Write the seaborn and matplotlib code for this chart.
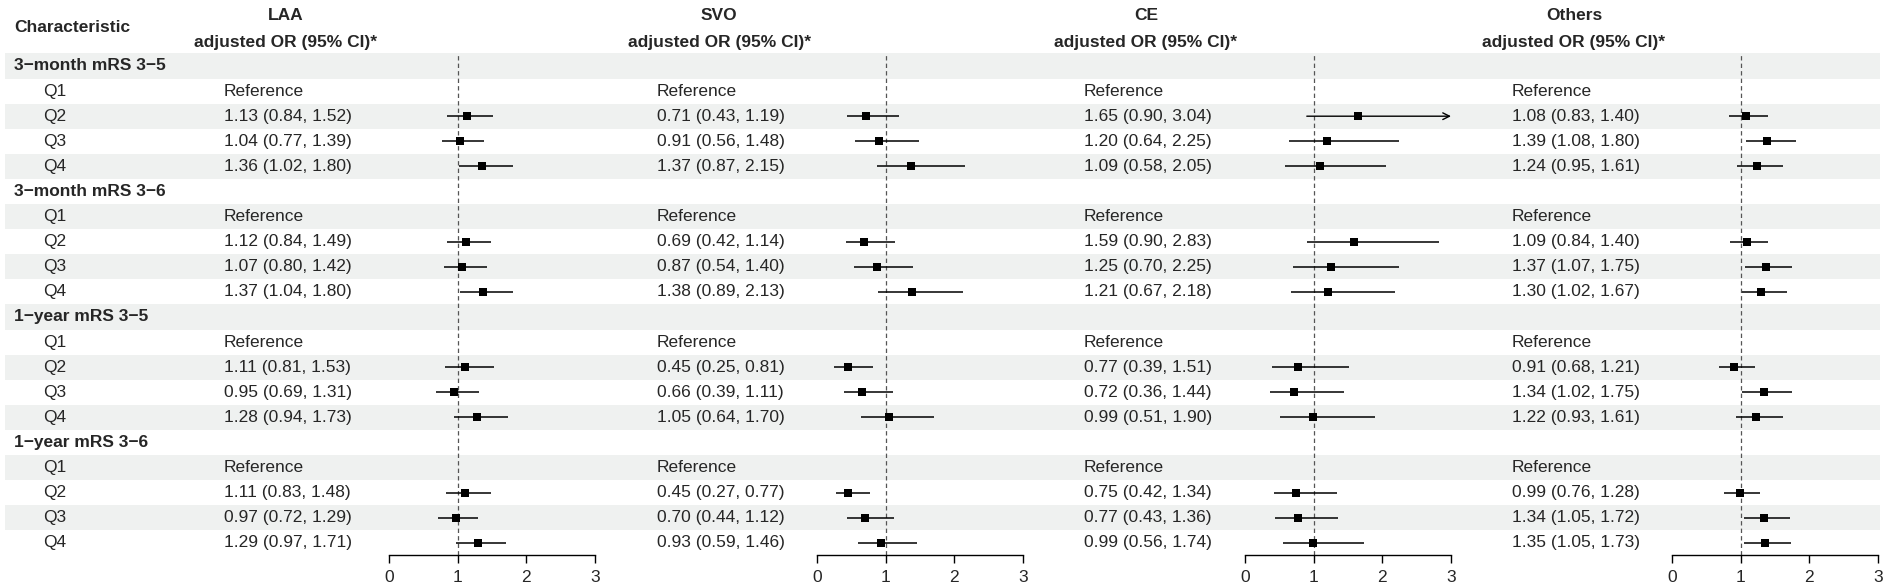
import numpy as np
import seaborn as sns
import matplotlib.pyplot as plt

sns.set_style("white")
plt.rcParams["font.family"] = ["Liberation Sans", "DejaVu Sans"]

groups = ["3\u2212month mRS 3\u22125", "3\u2212month mRS 3\u22126",
          "1\u2212year mRS 3\u22125", "1\u2212year mRS 3\u22126"]
quartiles = ["Q1", "Q2", "Q3", "Q4"]
subtypes = ["LAA", "SVO", "CE", "Others"]

# OR, lower, upper for Q2..Q4 of each group (Q1 = reference)
laa_or = [1.13, 1.04, 1.36, 1.12, 1.07, 1.37, 1.11, 0.95, 1.28, 1.11, 0.97, 1.29]
laa_lo = [0.84, 0.77, 1.02, 0.84, 0.80, 1.04, 0.81, 0.69, 0.94, 0.83, 0.72, 0.97]
laa_hi = [1.52, 1.39, 1.80, 1.49, 1.42, 1.80, 1.53, 1.31, 1.73, 1.48, 1.29, 1.71]

svo_or = [0.71, 0.91, 1.37, 0.69, 0.87, 1.38, 0.45, 0.66, 1.05, 0.45, 0.70, 0.93]
svo_lo = [0.43, 0.56, 0.87, 0.42, 0.54, 0.89, 0.25, 0.39, 0.64, 0.27, 0.44, 0.59]
svo_hi = [1.19, 1.48, 2.15, 1.14, 1.40, 2.13, 0.81, 1.11, 1.70, 0.77, 1.12, 1.46]

ce_or = [1.65, 1.20, 1.09, 1.59, 1.25, 1.21, 0.77, 0.72, 0.99, 0.75, 0.77, 0.99]
ce_lo = [0.90, 0.64, 0.58, 0.90, 0.70, 0.67, 0.39, 0.36, 0.51, 0.42, 0.43, 0.56]
ce_hi = [3.04, 2.25, 2.05, 2.83, 2.25, 2.18, 1.51, 1.44, 1.90, 1.34, 1.36, 1.74]

oth_or = [1.08, 1.39, 1.24, 1.09, 1.37, 1.30, 0.91, 1.34, 1.22, 0.99, 1.34, 1.35]
oth_lo = [0.83, 1.08, 0.95, 0.84, 1.07, 1.02, 0.68, 1.02, 0.93, 0.76, 1.05, 1.05]
oth_hi = [1.40, 1.80, 1.61, 1.40, 1.75, 1.67, 1.21, 1.75, 1.61, 1.28, 1.72, 1.73]

panels = [(laa_or, laa_lo, laa_hi), (svo_or, svo_lo, svo_hi),
          (ce_or, ce_lo, ce_hi), (oth_or, oth_lo, oth_hi)]

W, H = 1890, 587
fig = plt.figure(figsize=(W / 100, H / 100), dpi=100)

# layout (pixels)
row0, rowh = 66, 25.1
n_rows = len(groups) * 5
text_x = [224, 657, 1084, 1512]
plot_x0 = [389, 817, 1245, 1672]
plot_w = 206
axis_y = 555
top_y = 53
fs = 12.5
shade = "#eff1f0"


def to_row(px):
    return (px - row0) / rowh


bg = fig.add_axes([0, 0, 1, 1])
bg.set_xlim(0, W)
bg.set_ylim(to_row(H), to_row(0))
bg.axis("off")

# alternating row shading
rows = np.arange(n_rows)
shaded = rows[rows % 2 == 0]
bg.barh(shaded, 1875, left=5, height=1.0, color=shade, linewidth=0, zorder=0)

bg.text(14, to_row(27), "Characteristic", fontsize=fs, fontweight="bold",
        va="center", ha="left")
for k, name in enumerate(subtypes):
    cx = text_x[k] + 62
    bg.text(cx, to_row(16), name, fontsize=fs, fontweight="bold", ha="center", va="center")
    bg.text(cx, to_row(42), "adjusted OR (95% CI)*", fontsize=fs, fontweight="bold",
            ha="center", va="center")

# row labels and estimate text
for g, gname in enumerate(groups):
    r = g * 5
    bg.text(14, r, gname, fontsize=fs, fontweight="bold", va="center", ha="left")
    for q, qname in enumerate(quartiles):
        rr = r + 1 + q
        bg.text(43, rr, qname, fontsize=fs, va="center", ha="left")
        for k, (orv, lo, hi) in enumerate(panels):
            if q == 0:
                s = "Reference"
            else:
                i = g * 3 + q - 1
                s = f"{orv[i]:.2f} ({lo[i]:.2f}, {hi[i]:.2f})"
            bg.text(text_x[k], rr, s, fontsize=fs, va="center", ha="left")

# forest panels
est_rows = [g * 5 + 1 + q for g in range(len(groups)) for q in range(1, 4)]
for k, (orv, lo, hi) in enumerate(panels):
    ax = fig.add_axes([plot_x0[k] / W, 1 - axis_y / H, plot_w / W, (axis_y - top_y) / H])
    ax.patch.set_visible(False)
    ax.set_xlim(0, 3)
    ax.set_ylim(to_row(axis_y), to_row(top_y))
    ax.axvline(1, color="#555555", lw=0.9, ls=(0, (3.5, 2.5)), zorder=1)
    for y, o, l, h in zip(est_rows, orv, lo, hi):
        if h > 3:
            ax.annotate("", xy=(3, y), xytext=(l, y),
                        arrowprops=dict(arrowstyle="->", lw=1.0, color="black",
                                        shrinkA=0, shrinkB=0, mutation_scale=12))
        else:
            ax.hlines(y, l, h, color="black", lw=1.1, zorder=2)
    sns.scatterplot(x=orv, y=est_rows, marker="s", color="black", s=32,
                    linewidth=0, ax=ax, legend=False, zorder=3)
    for sp in ["top", "right", "left"]:
        ax.spines[sp].set_visible(False)
    ax.spines["bottom"].set_color("black")
    ax.spines["bottom"].set_linewidth(1.0)
    ax.set_yticks([])
    ax.set_xticks([0, 1, 2, 3])
    ax.set_xticklabels(["0", "1", "2", "3"])
    ax.tick_params(axis="x", direction="out", length=6, width=1.0, pad=5,
                   labelsize=fs, bottom=True, color="black")
    ax.set_xlabel("")
    ax.set_ylabel("")

fig.savefig("out.png", dpi=100)
